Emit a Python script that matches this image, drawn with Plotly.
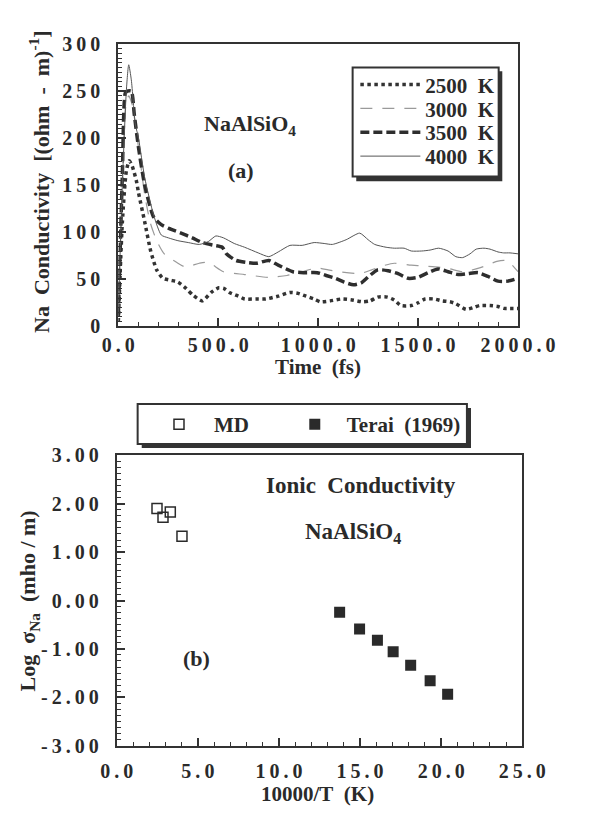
import plotly.graph_objects as go

W, H = 592, 816
def px(x): return x / W
def py(y): return 1 - y / H

# ---------------- data: panel (a) ----------------
t_2500 = [0, 20, 40, 55, 70, 90, 101, 132, 162, 192, 223, 260, 298, 340, 374, 420, 465, 503, 530, 556, 600, 632, 690, 738, 800, 859, 900, 940, 980, 1011, 1060, 1117, 1170, 1223, 1260, 1298, 1346, 1380, 1415, 1466, 1500, 1535, 1580, 1620, 1660, 1689, 1740, 1780, 1808, 1860, 1900, 1928, 1960, 2000]
v_2500 = [5, 110, 165, 176, 170, 155, 142, 111, 80, 60, 51, 49, 47, 40, 33, 27, 36, 41, 40, 36, 32, 29, 29, 29, 32, 36, 35, 32, 29, 26, 27, 29, 28, 26, 27, 31, 31, 28, 22, 22, 25, 29, 29, 27, 26, 24, 18, 20, 22, 22, 21, 19, 19, 19]

t_3000 = [0, 20, 38, 52, 70, 101, 132, 160, 192, 230, 291, 336, 405, 450, 526, 632, 753, 844, 920, 995, 1050, 1101, 1208, 1268, 1320, 1381, 1466, 1530, 1603, 1660, 1723, 1808, 1894, 1935, 1962, 2000]
v_3000 = [10, 150, 235, 245, 235, 190, 140, 110, 91, 77, 68, 63, 67, 68, 58, 55, 52, 54, 58, 62, 60, 58, 56, 60, 64, 67, 65, 64, 63, 61, 58, 62, 69, 70, 67, 58]

t_3500 = [0, 20, 35, 45, 65, 80, 101, 132, 177, 215, 253, 314, 370, 420, 480, 520, 541, 589, 640, 692, 753, 800, 874, 930, 995, 1040, 1086, 1130, 1177, 1215, 1253, 1298, 1350, 1400, 1450, 1500, 1550, 1600, 1650, 1700, 1750, 1800, 1850, 1900, 1950, 2000]
v_3500 = [10, 160, 248, 250, 250, 225, 190, 150, 116, 108, 104, 99, 94, 89, 86, 84, 77, 70, 68, 67, 70, 65, 58, 57, 57, 54, 51, 47, 44, 46, 53, 60, 59, 56, 51, 52, 57, 61, 58, 55, 56, 57, 53, 48, 48, 51]

t_4000 = [0, 20, 40, 52, 65, 85, 101, 132, 177, 215, 250, 298, 350, 405, 450, 488, 526, 580, 632, 700, 753, 800, 859, 920, 980, 1030, 1071, 1140, 1208, 1250, 1283, 1340, 1381, 1430, 1466, 1518, 1560, 1603, 1650, 1689, 1723, 1760, 1791, 1830, 1860, 1900, 1928, 1960, 2000]
v_4000 = [15, 150, 250, 278, 262, 215, 200, 158, 118, 97, 94, 91, 89, 87, 90, 96, 94, 88, 84, 78, 74, 79, 86, 86, 89, 88, 87, 92, 99, 92, 87, 84, 83, 83, 80, 80, 81, 83, 80, 74, 73, 77, 82, 83, 82, 79, 78, 78, 77]

series_names = ["2500\u00a0\u00a0K", "3000\u00a0\u00a0K", "3500\u00a0\u00a0K", "4000\u00a0\u00a0K"]

# ---------------- data: panel (b) ----------------
md_x = [2.48, 2.85, 3.30, 4.02]
md_y = [1.90, 1.72, 1.83, 1.33]
terai_x = [13.74, 14.97, 16.07, 17.04, 18.12, 19.32, 20.40]
terai_y = [-0.24, -0.59, -0.82, -1.06, -1.34, -1.66, -1.94]

xa_ticks = [0, 500, 1000, 1500, 2000]
xa_labels = ["0.0", "500.0", "1000.0", "1500.0", "2000.0"]
ya_ticks = [0, 50, 100, 150, 200, 250, 300]
ya_labels = ["0", "50", "100", "150", "200", "250", "300"]
xb_ticks = [0, 5, 10, 15, 20, 25]
xb_labels = ["0.0", "5.0", "10.0", "15.0", "20.0", "25.0"]
yb_ticks = [-3, -2, -1, 0, 1, 2, 3]
yb_labels = ["-3.00", "-2.00", "-1.00", "0.00", "1.00", "2.00", "3.00"]

def spaced(s):
    return "\u2009".join(list(s))

FONT = "Liberation Serif"
INK = "#2a2a2a"
LFONT = dict(family=FONT, size=21, color=INK, weight="bold")

fig = go.Figure()

styles = [
    dict(color="#333333", width=3.5, dash="dot"),
    dict(color="#9a9a9a", width=1.2, dash="12px,10px"),
    dict(color="#2e2e2e", width=3.5, dash="9px,4px"),
    dict(color="#555555", width=1.0, dash="solid"),
]
leg_a = ["legend", "legend2", "legend3", "legend4"]
for name, tt, vv, st, lg in zip(series_names, [t_2500, t_3000, t_3500, t_4000],
                                [v_2500, v_3000, v_3500, v_4000], styles, leg_a):
    fig.add_trace(go.Scatter(x=tt, y=vv, mode="lines", name=name,
                             line=dict(shape="spline", smoothing=0.6, **st),
                             xaxis="x", yaxis="y", legend=lg))

fig.add_trace(go.Scatter(x=md_x, y=md_y, mode="markers", name="MD",
                         marker=dict(symbol="square-open", size=10, color=INK, line=dict(width=1.5, color=INK)),
                         xaxis="x2", yaxis="y2", legend="legend5"))
fig.add_trace(go.Scatter(x=terai_x, y=terai_y, mode="markers", name="Terai\u00a0\u00a0(1969)",
                         marker=dict(symbol="square", size=11, color=INK),
                         xaxis="x2", yaxis="y2", legend="legend6"))

tickfont = dict(family=FONT, size=20, color=INK, weight="bold")
common = dict(showline=True, linewidth=2, linecolor="#333", mirror=True, showgrid=False, zeroline=False,
              ticks="inside", tickcolor="#333", tickwidth=1.5, tickfont=tickfont)

def leg(x, y, iw=60):
    return dict(x=px(x), y=py(y), xanchor="left", yanchor="middle", bgcolor="rgba(0,0,0,0)",
                borderwidth=0, font=LFONT, itemwidth=iw)

fig.update_layout(
    width=W, height=H, margin=dict(l=0, r=0, t=0, b=0),
    paper_bgcolor="white", plot_bgcolor="white",
    xaxis=dict(domain=[px(111.7), px(552.3)], range=[0, 2000], anchor="y",
               tickvals=xa_ticks, ticktext=[spaced(s) for s in xa_labels], ticklen=8,
               minor=dict(dtick=100, ticklen=4, ticks="inside", tickcolor="#333", tickwidth=1.2),
               ticklabelstandoff=0, **common),
    yaxis=dict(domain=[py(324), py(34)], range=[0, 300], anchor="x",
               tickvals=ya_ticks, ticktext=[spaced(s) for s in ya_labels], ticklen=8,
               minor=dict(dtick=5, ticklen=4, ticks="inside", tickcolor="#333", tickwidth=1.2),
               ticklabelstandoff=12, **common),
    xaxis2=dict(domain=[px(110), px(557)], range=[0, 25], anchor="y2",
                tickvals=xb_ticks, ticktext=[spaced(s) for s in xb_labels], ticklen=8,
                minor=dict(dtick=1, ticklen=4, ticks="inside", tickcolor="#333", tickwidth=1.2),
                ticklabelstandoff=6, **common),
    yaxis2=dict(domain=[py(755), py(456.7)], range=[-3, 3], anchor="x2",
                tickvals=yb_ticks, ticktext=[spaced(s) for s in yb_labels], ticklen=8,
                minor=dict(dtick=0.125, ticklen=4, ticks="inside", tickcolor="#333", tickwidth=1.2),
                ticklabelstandoff=12, **common),
    legend=leg(373, 76),
    legend2=leg(373, 100.5),
    legend3=leg(373, 125),
    legend4=leg(373, 149.5),
    legend5=leg(140, 425),
    legend6=leg(293, 425, 54),
    showlegend=True,
)

shapes = []
# legend box (a): shadow + frame
shapes.append(dict(type="rect", xref="paper", yref="paper", x0=px(374), x1=px(535), y0=py(175), y1=py(62),
                   fillcolor="#333", line=dict(width=0), layer="below"))
shapes.append(dict(type="rect", xref="paper", yref="paper", x0=px(370), x1=px(531), y0=py(170), y1=py(58),
                   fillcolor="white", line=dict(width=2, color="#333"), layer="below"))
# legend box (b)
shapes.append(dict(type="rect", xref="paper", yref="paper", x0=px(137.5), x1=px(500.5), y0=py(449), y1=py(408),
                   fillcolor="#333", line=dict(width=0), layer="below"))
shapes.append(dict(type="rect", xref="paper", yref="paper", x0=px(133), x1=px(496), y0=py(445), y1=py(404),
                   fillcolor="white", line=dict(width=2, color="#333"), layer="below"))
fig.update_layout(shapes=shapes)

def ann(text, x, y, size, angle=0):
    return dict(text=text, x=px(x), y=py(y), xref="paper", yref="paper", showarrow=False,
                xanchor="center", yanchor="middle", textangle=angle,
                font=dict(family=FONT, size=size, color=INK, weight="bold"))

annotations = [
    ann("NaAlSiO<sub>4</sub>", 257, 117, 22),
    ann("(a)", 247, 164, 22),
    ann("Ionic\u00a0\u00a0Conductivity", 379, 488, 23),
    ann("NaAlSiO<sub>4</sub>", 370, 536, 23),
    ann("(b)", 198, 665, 22),
    ann("Time\u00a0\u00a0(fs)", 332, 366, 21),
    ann("10000/T\u00a0\u00a0(K)", 331, 805, 21),
    ann("Na\u00a0\u00a0Conductivity\u00a0\u00a0[(ohm\u00a0\u00a0-\u00a0\u00a0m)<sup>-1</sup>]", 25, 176, 22, -90),
    ann("Log\u00a0\u00a0\u03c3<sub>Na</sub>\u00a0\u00a0(mho\u00a0/\u00a0m)", 13, 606, 22, -90),
]
fig.update_layout(annotations=annotations)

fig.write_html("out.html")
